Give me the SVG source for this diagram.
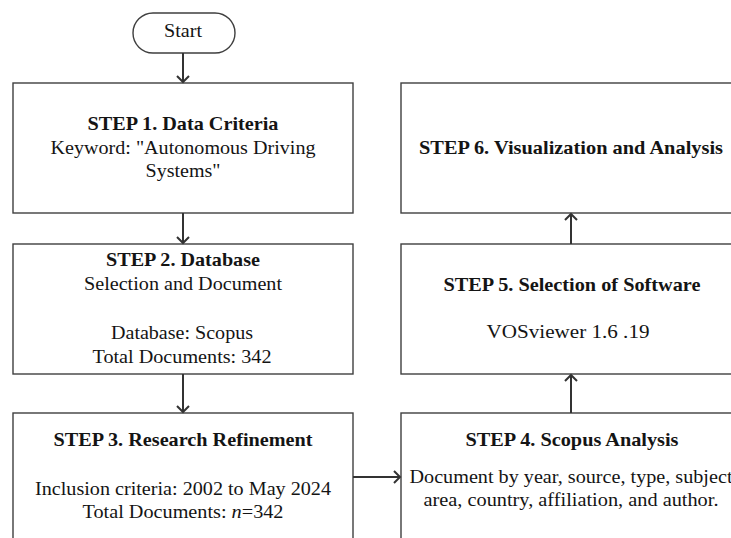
<svg xmlns="http://www.w3.org/2000/svg" width="731" height="538" viewBox="0 0 731 538">
  <style>
    .box { fill: #ffffff; stroke: #3f3f3f; stroke-width: 1.4; }
    .conn { fill: none; stroke: #333333; stroke-width: 2; }
    text { font-family: "Liberation Serif", Tinos, "Times New Roman", Times, "DejaVu Serif", serif; font-size: 19px; fill: #141414; text-anchor: middle; }
    .b { font-weight: bold; }
  </style>
  <defs>
    <marker id="arrow" viewBox="-8 -8 16 16" markerWidth="16" markerHeight="16" refX="0" refY="0" orient="auto" markerUnits="userSpaceOnUse">
      <path d="M-6,-6 L0,0 L-6,6" fill="none" stroke="#333333" stroke-width="2"/>
    </marker>
  </defs>
  <rect width="731" height="538" fill="#ffffff"/>

  <g id="start">
    <rect class="box" x="133" y="13" width="102" height="40" rx="20" ry="20"/>
    <text x="183" y="37" textLength="38" lengthAdjust="spacingAndGlyphs">Start</text>
  </g>

  <g id="step1">
    <rect class="box" x="13" y="83" width="340" height="130"/>
    <text class="b" x="183" y="130" textLength="191" lengthAdjust="spacingAndGlyphs">STEP 1. Data Criteria</text>
    <text x="183" y="154" textLength="265" lengthAdjust="spacingAndGlyphs">Keyword: "Autonomous Driving</text>
    <text x="183" y="177" textLength="75" lengthAdjust="spacingAndGlyphs">Systems"</text>
  </g>

  <g id="step2">
    <rect class="box" x="13" y="244" width="340" height="130"/>
    <text class="b" x="183" y="266" textLength="154" lengthAdjust="spacingAndGlyphs">STEP 2. Database</text>
    <text x="183" y="290" textLength="198" lengthAdjust="spacingAndGlyphs">Selection and Document</text>
    <text x="182" y="339" textLength="142" lengthAdjust="spacingAndGlyphs">Database: Scopus</text>
    <text x="182" y="363" textLength="179" lengthAdjust="spacingAndGlyphs">Total Documents: 342</text>
  </g>

  <g id="step3">
    <rect class="box" x="13" y="413" width="340" height="140"/>
    <text class="b" x="183" y="446" textLength="259" lengthAdjust="spacingAndGlyphs">STEP 3. Research Refinement</text>
    <text x="183" y="495" textLength="296" lengthAdjust="spacingAndGlyphs">Inclusion criteria: 2002 to May 2024</text>
    <text x="183" y="518" textLength="201" lengthAdjust="spacingAndGlyphs">Total Documents: <tspan font-style="italic">n</tspan>=342</text>
  </g>

  <g id="step4">
    <rect class="box" x="401" y="413" width="340" height="140"/>
    <text class="b" x="572" y="446" textLength="213" lengthAdjust="spacingAndGlyphs">STEP 4. Scopus Analysis</text>
    <text x="571" y="483" textLength="323" lengthAdjust="spacingAndGlyphs">Document by year, source, type, subject</text>
    <text x="571" y="506" textLength="295" lengthAdjust="spacingAndGlyphs">area, country, affiliation, and author.</text>
  </g>

  <g id="step5">
    <rect class="box" x="401" y="244" width="340" height="130"/>
    <text class="b" x="572" y="291" textLength="257" lengthAdjust="spacingAndGlyphs">STEP 5. Selection of Software</text>
    <text x="568" y="338" textLength="163" lengthAdjust="spacingAndGlyphs">VOSviewer 1.6 .19</text>
  </g>

  <g id="step6">
    <rect class="box" x="401" y="83" width="340" height="130"/>
    <text class="b" x="571" y="154" textLength="304" lengthAdjust="spacingAndGlyphs">STEP 6. Visualization and Analysis</text>
  </g>

  <g id="connectors">
    <path class="conn" d="M183,53 V82" marker-end="url(#arrow)"/>
    <path class="conn" d="M183,213 V243" marker-end="url(#arrow)"/>
    <path class="conn" d="M183,374 V412" marker-end="url(#arrow)"/>
    <path class="conn" d="M353,477 H400" marker-end="url(#arrow)"/>
    <path class="conn" d="M571,413 V375" marker-end="url(#arrow)"/>
    <path class="conn" d="M571,244 V214" marker-end="url(#arrow)"/>
  </g>
</svg>
